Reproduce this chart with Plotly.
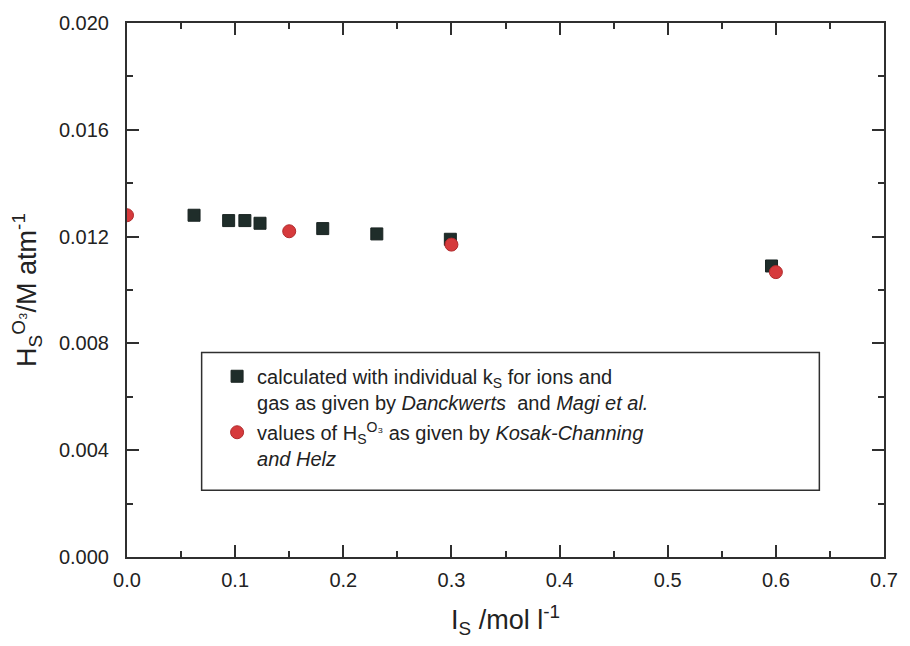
import plotly.graph_objects as go

# Ionic strength (mol/l) and Henry coefficient of ozone (M/atm)
calc_is = [0.062, 0.094, 0.109, 0.123, 0.181, 0.231, 0.299, 0.596]
calc_hs = [0.0128, 0.0126, 0.0126, 0.0125, 0.0123, 0.0121, 0.0119, 0.0109]

kc_is = [0.0, 0.15, 0.30, 0.60]
kc_hs = [0.0128, 0.0122, 0.0117, 0.01067]

legend_calc = ("calculated with individual k<sub>S</sub> for ions and<br>"
               "gas as given by <i>Danckwerts</i>  and <i>Magi et al.</i>")
legend_kc = ("values of H<sub>S</sub><sup>O₃</sup> as given by <i>Kosak-Channing</i><br>"
             "<i>and Helz</i>")

x_ticks = [0.0, 0.1, 0.2, 0.3, 0.4, 0.5, 0.6, 0.7]
y_ticks = [0.000, 0.004, 0.008, 0.012, 0.016, 0.020]

FONT = "Arial, Liberation Sans, sans-serif"
AXIS = "#2f2f2f"

fig = go.Figure()
fig.add_trace(go.Scatter(
    x=calc_is, y=calc_hs, mode="markers", name=legend_calc, legendgroup="calc",
    marker=dict(symbol="square", size=12, color="#1f2d2a",
                line=dict(color="#1a2422", width=1)),
))
fig.add_trace(go.Scatter(
    x=kc_is, y=kc_hs, mode="markers", name=legend_kc, legendgroup="kc",
    marker=dict(symbol="circle", size=13, color="#d63a3c",
                line=dict(color="#b02a2c", width=1)),
))

axis_common = dict(
    showline=True, linecolor=AXIS, linewidth=2, mirror="ticks",
    ticks="inside", tickcolor=AXIS, tickwidth=2, ticklen=12,
    showgrid=False, zeroline=False,
    tickfont=dict(family=FONT, size=20, color="#222"),
)

fig.update_xaxes(
    range=[0.0, 0.7], tickvals=x_ticks, tickformat=".1f", ticklabelstandoff=4,
    minor=dict(dtick=0.05, ticks="inside", ticklen=6, tickcolor=AXIS, tickwidth=1.5),
    title=dict(text="I<sub>S</sub> /mol l<sup>-1</sup>",
               font=dict(family=FONT, size=27, color="#222"), standoff=20),
    **axis_common,
)
fig.update_yaxes(
    range=[0.0, 0.020], tickvals=y_ticks, tickformat=".3f", ticklabelstandoff=12,
    minor=dict(dtick=0.002, ticks="inside", ticklen=6, tickcolor=AXIS, tickwidth=1.5),
    title=dict(text="H<sub>S</sub><sup>O₃</sup>/M atm<sup>-1</sup>",
               font=dict(family=FONT, size=27, color="#222"), standoff=14),
    **axis_common,
)

# Framed legend box
fig.add_shape(type="rect", xref="paper", yref="paper",
              x0=0.0986, x1=0.9146, y0=0.125, y1=0.383,
              line=dict(color=AXIS, width=1.5), fillcolor="rgba(0,0,0,0)")

fig.update_layout(
    width=910, height=646,
    margin=dict(l=127, r=22, t=22, b=89),
    plot_bgcolor="white", paper_bgcolor="white",
    font=dict(family=FONT, color="#222"),
    legend=dict(x=0.119, y=0.375, xanchor="left", yanchor="top",
                bgcolor="rgba(0,0,0,0)", borderwidth=0, valign="top",
                font=dict(family=FONT, size=20, color="#222"),
                tracegroupgap=1, itemsizing="trace"),
    showlegend=True,
)

fig.write_html("out.html")
